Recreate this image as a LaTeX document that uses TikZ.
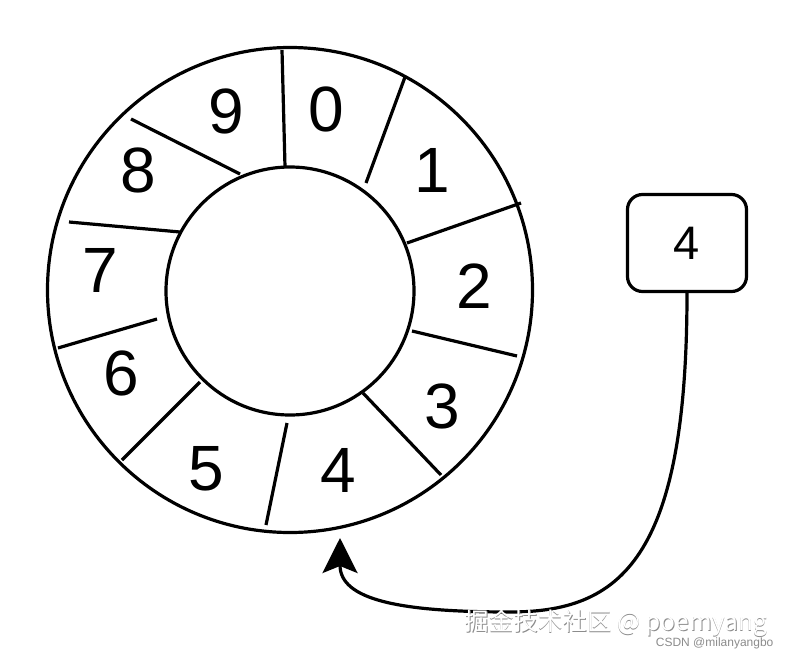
\documentclass[tikz,border=0pt]{standalone}
\usepackage{fontspec}
\setmainfont{Liberation Sans}
\newfontfamily\cjkfont{Noto Sans CJK SC}
\usetikzlibrary{arrows.meta}
\begin{document}
\begin{tikzpicture}[x=1pt,y=-1pt,line width=3.2pt,
  ring/.style={draw,circle,inner sep=0pt},
  digit/.style={font=\fontsize{64}{64}\selectfont,inner sep=0pt},
  sep/.style={line cap=butt},
  slotbox/.style={draw,rounded corners=15pt,minimum width=119pt,minimum height=97pt,inner sep=0pt,font=\fontsize{47}{47}\selectfont},
  link/.style={-{Stealth[length=35pt,width=35pt,inset=7pt]}},
  wm/.style={font=\cjkfont\fontsize{24.5}{24.5}\selectfont,inner sep=0pt,anchor=west},
  wmsmall/.style={font=\fontsize{12}{12}\selectfont,inner sep=0pt,anchor=east,text=black!45}]
\useasboundingbox (0,0) rectangle (788,656);
\fill[white] (0,0) rectangle (788,656);
% rings
\node[ring,minimum size=485pt] (outer) at (290,290) {};
\node[ring,minimum size=248pt] (inner) at (290,291) {};
% separators
\draw[sep] (282,50) -- (285,167);
\draw[sep] (405,77) -- (366,183);
\draw[sep] (521,203) -- (407,243);
\draw[sep] (412,331) -- (517,356);
\draw[sep] (363,393) -- (441,475);
\draw[sep] (287,423) -- (266,525);
\draw[sep] (200,382) -- (122,460);
\draw[sep] (58,348) -- (157,319);
\draw[sep] (69,222) -- (180,232);
\draw[sep] (131,119) -- (240,174);
% digits
\node[digit] (d0) at (326,109) {0};
\node[digit] (d1) at (432,170) {1};
\node[digit] (d2) at (474,286) {2};
\node[digit] (d3) at (442,406) {3};
\node[digit] (d4) at (338,470) {4};
\node[digit] (d5) at (206,469) {5};
\node[digit] (d6) at (121,373) {6};
\node[digit] (d7) at (100,270) {7};
\node[digit] (d8) at (138,170) {8};
\node[digit] (d9) at (226,111) {9};
% box
\node[slotbox] (box) at (687,243) {4};
\coordinate (tip) at (340,538);
\draw[link] (box.south) .. controls (687,560) and (620,612) .. (510,612)
  .. controls (400,612) and (340,600) .. (tip);
% watermark
\node[wm,text=black!45] (wms) at (463.8,623.8) {掘金技术社区 @ poemyang};
\node[wm,text=white] (wmt) at (463,623) {掘金技术社区 @ poemyang};
\node[wmsmall] (csdn) at (775,643) {CSDN @milanyangbo};
\end{tikzpicture}
\end{document}
